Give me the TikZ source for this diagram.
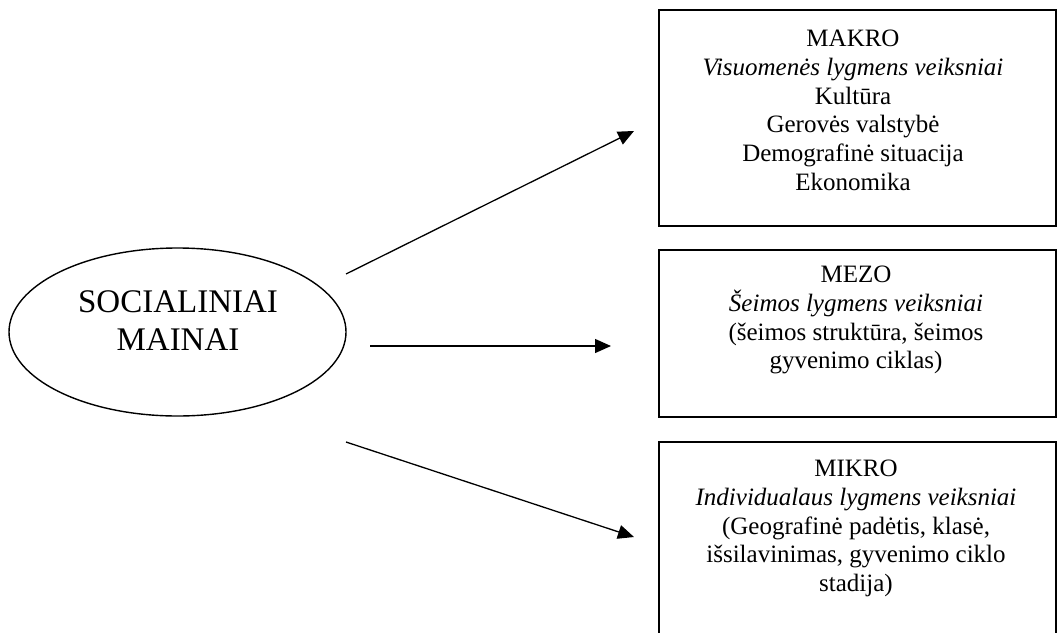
\documentclass[tikz,border=0pt]{standalone}
\usepackage{fontspec}
\setmainfont{Liberation Serif}
\usetikzlibrary{arrows.meta,shapes.geometric}
\begin{document}
\begin{tikzpicture}[x=1pt,y=-1pt,
  boxst/.style={draw, line width=1.6pt, rectangle, inner sep=0pt},
  txt/.style={align=center, inner sep=0pt, anchor=north, font=\fontsize{25}{28.7}\selectfont},
  arr/.style={line width=1.3pt, -{Triangle[length=16pt,width=14pt]}}]
\clip (0,0) rectangle (1059,632);
\fill[white] (0,0) rectangle (1059,632);
% central ellipse
\node[draw, ellipse, line width=1.4pt, minimum width=337pt, minimum height=168pt, inner sep=0pt] (sm) at (177.5,332) {};
\node[align=center, inner sep=0pt, anchor=north, font=\fontsize{33}{38}\selectfont] (smt) at (178,290) {SOCIALINIAI\\MAINAI};
% boxes
\node[boxst, minimum width=397pt, minimum height=216pt] (makro) at (857.5,118) {};
\node[boxst, minimum width=397pt, minimum height=167pt] (mezo) at (857.5,333.5) {};
\node[boxst, minimum width=397pt, minimum height=258pt] (mikro) at (857.5,571) {};
% box texts
\node[txt] (makrot) at (853,30) {MAKRO\\\textit{Visuomenės lygmens veiksniai}\\Kultūra\\Gerovės valstybė\\Demografinė situacija\\Ekonomika};
\node[txt] (mezot) at (856,266) {MEZO\\\textit{Šeimos lygmens veiksniai}\\(šeimos struktūra, šeimos\\gyvenimo ciklas)};
\node[txt] (mikrot) at (856,460) {MIKRO\\\textit{Individualaus lygmens veiksniai}\\(Geografinė padėtis, klasė,\\išsilavinimas, gyvenimo ciklo\\stadija)};
% arrow ends
\coordinate (a1s) at (346,274);
\coordinate (a1e) at (634,131);
\coordinate (a2s) at (370,346);
\coordinate (a2e) at (611,346);
\coordinate (a3s) at (346,442);
\coordinate (a3e) at (634,537);
\draw[arr] (a1s) -- (a1e);
\draw[arr] (a2s) -- (a2e);
\draw[arr] (a3s) -- (a3e);
\end{tikzpicture}
\end{document}
